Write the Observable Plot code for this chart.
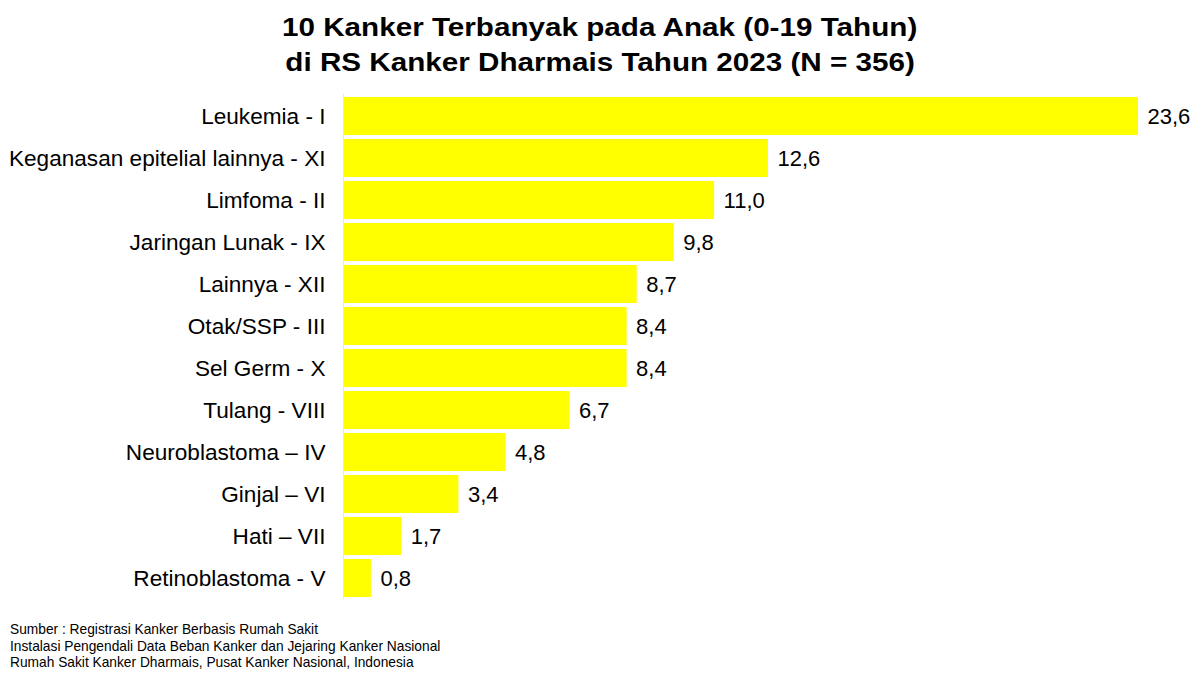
<!DOCTYPE html>
<html>
<head>
<meta charset="utf-8">
<script src="https://cdn.jsdelivr.net/npm/d3@7"></script>
<script src="https://cdn.jsdelivr.net/npm/@observablehq/plot@0.6"></script>
<style>
  html, body { margin: 0; padding: 0; background: #fff; }
  body { width: 1200px; height: 679px; overflow: hidden; font-family: "Liberation Sans", Arial, sans-serif; }
  #title { box-sizing: border-box; text-align: center; font-weight: bold; font-size: 26px; line-height: 35px; padding-top: 10px; height: 84px; color: #000; }
  #title span { display: inline-block; transform: scaleX(1.14); transform-origin: 50% 50%; white-space: nowrap; }
  #footer { font-size: 13.75px; line-height: 16.5px; padding-left: 10px; margin-top: 12px; color: #000; }
  #chart svg { display: block; }
</style>
</head>
<body>
<div id="title"><span>10 Kanker Terbanyak pada Anak (0-19 Tahun)</span><br><span>di RS Kanker Dharmais Tahun 2023 (N = 356)</span></div>
<div id="chart"></div>
<div id="footer">Sumber : Registrasi Kanker Berbasis Rumah Sakit<br>Instalasi Pengendali Data Beban Kanker dan Jejaring Kanker Nasional<br>Rumah Sakit Kanker Dharmais, Pusat Kanker Nasional, Indonesia</div>
<script>
const categories = [
  "Leukemia - I",
  "Keganasan epitelial lainnya - XI",
  "Limfoma - II",
  "Jaringan Lunak - IX",
  "Lainnya - XII",
  "Otak/SSP - III",
  "Sel Germ - X",
  "Tulang - VIII",
  "Neuroblastoma \u2013 IV",
  "Ginjal \u2013 VI",
  "Hati \u2013 VII",
  "Retinoblastoma - V"
];
const values = [23.6, 12.6, 11.0, 9.8, 8.7, 8.4, 8.4, 6.7, 4.8, 3.4, 1.7, 0.8];

const data = categories.map((c, i) => ({category: c, value: values[i]}));
const fmt = v => v.toFixed(1).replace(".", ",");

const plot = Plot.plot({
  width: 1200,
  height: 526,
  marginLeft: 344,
  marginRight: 62,
  marginTop: 10,
  marginBottom: 11,
  style: {fontFamily: "Liberation Sans, Arial, sans-serif", fontSize: "22px", color: "#000", background: "#fff"},
  x: {domain: [0, 23.6], axis: null},
  y: {domain: categories, paddingInner: 0.1, paddingOuter: 0.05, label: null, tickSize: 0, tickPadding: 19},
  marks: [
    Plot.axisY({tickSize: 0, tickPadding: 19, fontSize: 22.6, label: null}),
    Plot.ruleX([0], {stroke: "#e8e8e8", strokeWidth: 1, dx: -1}),
    Plot.barX(data, {x: "value", y: "category", fill: "#ffff00"}),
    Plot.text(data, {x: "value", y: "category", text: d => fmt(d.value), textAnchor: "start", dx: 9, fontSize: 22, fill: "#000"})
  ]
});
document.getElementById("chart").appendChild(plot);
</script>
</body>
</html>
